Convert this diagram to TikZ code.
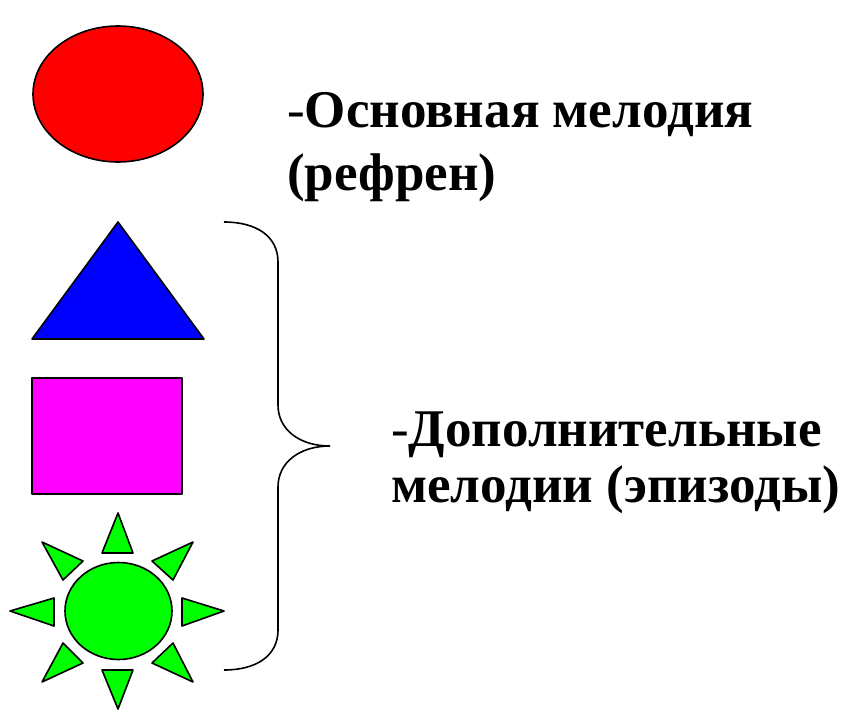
\documentclass[tikz,border=0pt]{standalone}
\usepackage{fontspec}
\setmainfont{Liberation Serif}
\definecolor{sunG}{RGB}{0,255,0}
\definecolor{magF}{RGB}{255,0,255}
\definecolor{redF}{RGB}{255,0,0}
\definecolor{blueF}{RGB}{0,0,255}
\begin{document}
\begin{tikzpicture}[x=1pt,y=-1pt,
  figline/.style={draw=black,line width=1.6pt,line join=round},
  lbl/.style={anchor=base west,inner sep=0pt,font=\fontsize{53}{60}\selectfont\bfseries}]
\useasboundingbox (0,0) rectangle (846,710);
% red circle
\draw[figline,fill=redF] (118,94) ellipse [x radius=85, y radius=68];
% blue triangle
\draw[figline,fill=blueF] (118,222) -- (204,339) -- (32,339) -- cycle;
% magenta square
\draw[figline,fill=magF] (32,378) rectangle (182,494);
% sun
\draw[figline,fill=sunG] (118.5,611) ellipse [x radius=53.5, y radius=48.5];
\draw[figline,fill=sunG] (118,513) -- (133,553) -- (102,553) -- cycle;
\draw[figline,fill=sunG] (118,709) -- (133,670) -- (102,670) -- cycle;
\draw[figline,fill=sunG] (10,611) -- (54,598) -- (54,626) -- cycle;
\draw[figline,fill=sunG] (224,611) -- (182,598) -- (182,626) -- cycle;
\draw[figline,fill=sunG] (42,542) -- (83,561) -- (63,580) -- cycle;
\draw[figline,fill=sunG] (193,542) -- (152,561) -- (173,580) -- cycle;
\draw[figline,fill=sunG] (42,682) -- (83,663) -- (63,643) -- cycle;
\draw[figline,fill=sunG] (193,682) -- (152,663) -- (173,643) -- cycle;
% brace
\coordinate (btop) at (224,222);
\coordinate (btip) at (330,446);
\coordinate (bbot) at (224,670);
\draw[line width=1.6pt] (btop) .. controls (256,222) and (278,236) .. (278,262)
  -- (278,405) .. controls (278,430) and (300,446) .. (btip)
  .. controls (300,446) and (278,462) .. (278,487)
  -- (278,630) .. controls (278,656) and (256,670) .. (bbot);
% texts
\node[lbl] (t1a) at (287,127) {\mdseries-\bfseries Основная мелодия};
\node[lbl] (t1b) at (287,190) {(рефрен)};
\node[lbl] (t2a) at (391,446) {\mdseries-\bfseries Дополнительные};
\node[lbl] (t2b) at (391,502) {мелодии (эпизоды)};
\end{tikzpicture}
\end{document}
